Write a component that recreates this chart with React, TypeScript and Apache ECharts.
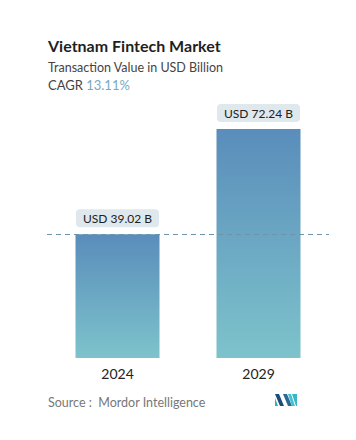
import React, { useEffect, useRef } from "react";
import * as echarts from "echarts";

const categories = ["2024", "2029"];
const values = [39.02, 72.24];
const valueLabels = ["USD 39.02 B", "USD 72.24 B"];
const titleText = "Vietnam Fintech Market";
const subtitleText = "Transaction Value in USD Billion";
const cagrValue = "13.11%";
const sourceText = "Source :  Mordor Intelligence";

const FONT = "Lato, 'Noto Sans', sans-serif";

export default function App() {
  const ref = useRef<HTMLDivElement>(null);
  useEffect(() => {
    if (!ref.current) return;
    const chart = echarts.init(ref.current, undefined, { renderer: "svg" });
    chart.setOption({
      animation: false,
      backgroundColor: "#ffffff",
      grid: { left: 39, right: 19, top: 121, bottom: 82 },
      xAxis: {
        type: "category",
        data: categories,
        axisLine: { show: false },
        axisTick: { show: false },
        axisLabel: { color: "#222", fontSize: 14, fontFamily: FONT, margin: 8 },
      },
      yAxis: {
        type: "value",
        min: 0,
        max: 72.24,
        show: false,
        splitLine: { show: false },
      },
      series: [
        {
          type: "bar",
          data: values,
          barWidth: 84,
          itemStyle: {
            color: new echarts.graphic.LinearGradient(0, 0, 0, 1, [
              { offset: 0, color: "#5a8dbb" },
              { offset: 1, color: "#7dc3cb" },
            ]),
          },
          label: {
            show: true,
            position: "top",
            distance: 7,
            formatter: (p: any) => valueLabels[p.dataIndex],
            backgroundColor: "#dfe8ed",
            borderRadius: 4,
            padding: [3, 7, 3, 7],
            color: "#222",
            fontSize: 12,
            fontFamily: FONT,
          },
          markLine: {
            silent: true,
            symbol: ["none", "none"],
            label: { show: false },
            lineStyle: { type: [5, 4], color: "#6f93a8", width: 1 },
            data: [{ yAxis: values[0] }],
          },
        },
      ],
      graphic: [
        {
          type: "text",
          left: 40,
          top: 29,
          style: { text: titleText, fontSize: 16, fontWeight: "bold", fill: "#1f1f1f", fontFamily: FONT },
        },
        {
          type: "text",
          left: 40,
          top: 53,
          style: { text: subtitleText, fontSize: 12.5, fill: "#444", fontFamily: FONT },
        },
        {
          type: "text",
          left: 40,
          top: 70,
          style: {
            text: "{a|CAGR} {b|" + cagrValue + "}",
            rich: {
              a: { fontSize: 13, fill: "#444", fontFamily: FONT },
              b: { fontSize: 13, fill: "#7aa8c2", fontFamily: FONT },
            },
          },
        },
        {
          type: "text",
          left: 40,
          top: 388,
          style: { text: sourceText, fontSize: 12.5, fill: "#777", fontFamily: FONT },
        },
        {
          type: "group",
          left: 267,
          top: 386,
          children: [
            { type: "polygon", shape: { points: [[0, 0], [4, 0], [9, 12], [5, 12]] }, style: { fill: "#1d4e7a" } },
            { type: "polygon", shape: { points: [[0, 4], [3, 12], [0, 12]] }, style: { fill: "#2ab0c4" } },
            { type: "polygon", shape: { points: [[8, 0], [12, 0], [17, 12], [13, 12]] }, style: { fill: "#2a6c95" } },
            { type: "polygon", shape: { points: [[17, 0], [22, 0], [22, 12], [21, 12]] }, style: { fill: "#37b8c9" } },
            { type: "polygon", shape: { points: [[13, 0], [16, 0], [20, 12], [17, 12]] }, style: { fill: "#45c0cf" } },
          ],
        },
      ],
    });
    return () => chart.dispose();
  }, []);
  return <div ref={ref} style={{ width: 340, height: 432 }} />;
}
